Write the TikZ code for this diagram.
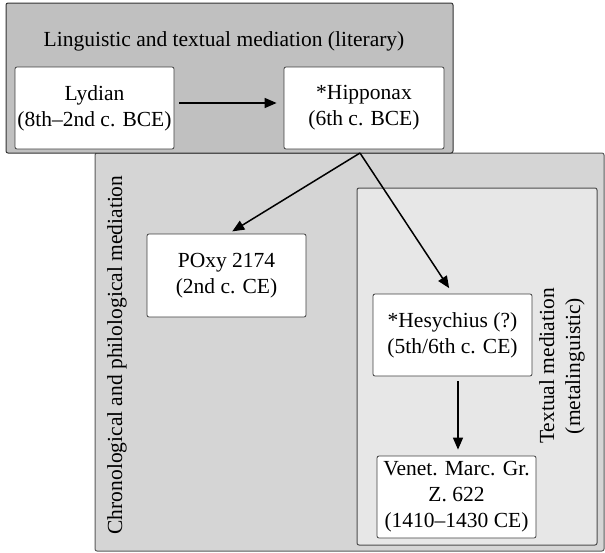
\documentclass[tikz,border=0pt]{standalone}
\usepackage{fontspec}
\setmainfont{Liberation Serif}
\usetikzlibrary{arrows.meta}
\definecolor{topgray}{RGB}{192,192,192}
\definecolor{midgray}{RGB}{213,213,213}
\definecolor{innergray}{RGB}{231,231,231}
\begin{document}
\begin{tikzpicture}[x=1pt,y=-1pt,
  panel/.style={draw=black!80,line width=1pt,rounded corners=2pt},
  item/.style={draw=black!75,fill=white,line width=0.8pt,rounded corners=2pt,
    minimum width=159pt,minimum height=82pt,align=center,inner sep=0pt,
    font=\fontsize{21.5}{26}\selectfont},
  lbl/.style={align=center,font=\fontsize{21.5}{26}\selectfont,inner sep=0pt},
  conn/.style={line width=1.5pt,-{Triangle[length=12pt,width=10pt]}}]
\useasboundingbox (0,0) rectangle (605,552);
% lower panel
\draw[panel,fill=midgray,draw=black!65] (95,153) rectangle (604,551);
\draw[panel,fill=innergray,draw=black!70] (357,188) rectangle (597,545);
% top panel
\draw[panel,fill=topgray] (6,3) rectangle (453,153);
\node[lbl] (title) at (224,41) {Linguistic and textual mediation (literary)};
\node[item] (lyd) at (94.5,108) {Lydian\\(8th–2nd c. BCE)};
\node[item,minimum width=160pt] (hip) at (364,108) {*Hipponax\\(6th c. BCE)};
\node[item,minimum height=83pt] (poxy) at (226.5,275.5) {POxy 2174\\(2nd c. CE)};
\node[item] (hes) at (452.5,335) {*Hesychius (?)\\(5th/6th c. CE)};
\node[item] (ven) at (456.5,497) {Venet. Marc. Gr.\\Z. 622\\(1410–1430 CE)};
\node[lbl,rotate=90] (chron) at (117,355) {Chronological and philological mediation};
\node[lbl,rotate=90] (textual) at (562,366) {Textual mediation\\(metalinguistic)};
\coordinate (hipbot) at (360,153);
\coordinate (vx) at (458,0);
\draw[conn,shorten <=5pt,shorten >=7pt] ([yshift=5pt]lyd.east) -- ([yshift=5pt]hip.west);
\draw[conn,shorten >=5pt] (hipbot) -- (228,234);
\draw[conn,shorten >=7pt] (hipbot) -- (453,294);
\draw[conn,shorten <=5pt,shorten >=6pt] (hes.south -| vx) -- (ven.north -| vx);
\end{tikzpicture}
\end{document}
